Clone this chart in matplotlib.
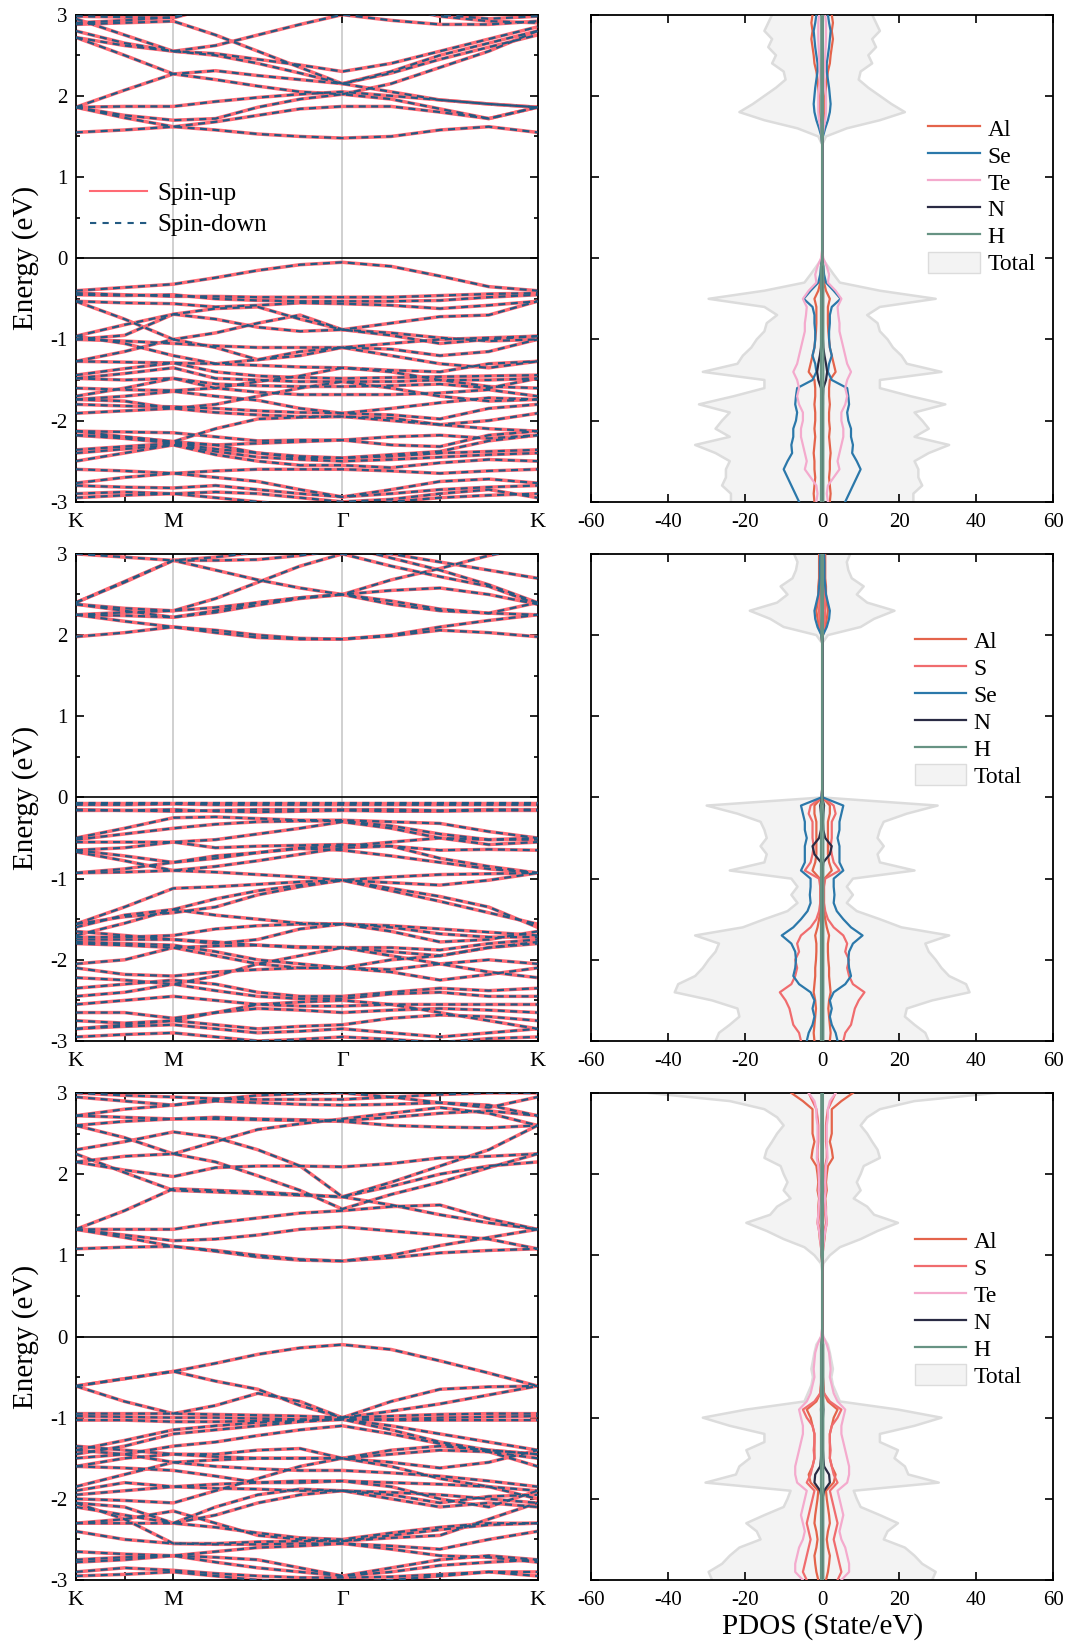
import numpy as np
import matplotlib
matplotlib.use("Agg")
import matplotlib.pyplot as plt
from matplotlib.lines import Line2D
from matplotlib.patches import Patch

plt.rcParams['font.family'] = ['Liberation Serif', 'DejaVu Serif']
plt.rcParams['axes.unicode_minus'] = False

# ---------------- k-path (hexagonal BZ, K-M-Gamma-K) ----------------
k_nodes = [0.0, 0.5, 0.5 + np.sqrt(3) / 2, 1.5 + np.sqrt(3) / 2]
k_labels = ['K', 'M', 'Γ', 'K']
# sample points: K, KM/2, M, 3 on M-G, G, 3 on G-K, K
k_samples = np.concatenate([
    np.linspace(k_nodes[0], k_nodes[1], 3)[:-1],
    np.linspace(k_nodes[1], k_nodes[2], 5)[:-1],
    np.linspace(k_nodes[2], k_nodes[3], 5),
])

# ---------------- band energies (eV) at k_samples ----------------
bands_1 = [
    # conduction
    [1.55, 1.58, 1.62, 1.58, 1.53, 1.50, 1.48, 1.50, 1.58, 1.62, 1.55],
    [1.86, 1.76, 1.70, 1.72, 1.86, 1.96, 2.02, 1.96, 1.84, 1.72, 1.86],
    [1.86, 1.87, 1.87, 1.93, 1.98, 2.02, 2.05, 2.00, 1.95, 1.90, 1.86],
    [1.86, 2.07, 2.27, 2.31, 2.25, 2.20, 2.15, 2.05, 1.95, 1.90, 1.86],
    [1.86, 1.73, 1.62, 1.68, 1.76, 1.84, 1.87, 1.87, 1.80, 1.72, 1.86],
    [2.72, 2.62, 2.55, 2.50, 2.40, 2.28, 2.15, 2.28, 2.45, 2.60, 2.75],
    [2.72, 2.50, 2.27, 2.20, 2.12, 2.05, 2.02, 2.15, 2.35, 2.55, 2.80],
    [2.95, 2.75, 2.55, 2.52, 2.45, 2.38, 2.30, 2.40, 2.55, 2.70, 2.85],
    [2.88, 2.90, 2.92, 2.75, 2.55, 2.35, 2.15, 2.30, 2.50, 2.65, 2.80],
    [2.80, 2.65, 2.55, 2.62, 2.75, 2.88, 3.00, 2.93, 2.88, 2.88, 2.92],
    [2.98, 2.97, 2.96, 3.10, 3.20, 3.20, 3.20, 3.10, 3.00, 2.95, 2.98],
    [2.90, 2.93, 2.97, 3.10, 3.20, 3.25, 3.30, 3.10, 2.98, 2.92, 2.90],
    # valence
    [-0.40, -0.36, -0.32, -0.24, -0.15, -0.08, -0.05, -0.10, -0.22, -0.35, -0.40],
    [-0.43, -0.45, -0.47, -0.47, -0.48, -0.48, -0.48, -0.48, -0.46, -0.44, -0.43],
    [-0.45, -0.46, -0.45, -0.50, -0.52, -0.53, -0.53, -0.53, -0.52, -0.48, -0.45],
    [-0.53, -0.55, -0.56, -0.60, -0.58, -0.55, -0.56, -0.58, -0.62, -0.58, -0.53],
    [-0.53, -0.75, -1.00, -0.92, -0.80, -0.70, -0.88, -0.80, -0.72, -0.70, -0.53],
    [-0.96, -0.82, -0.69, -0.75, -0.85, -0.90, -0.88, -0.95, -1.05, -1.00, -0.96],
    [-1.00, -0.95, -0.69, -0.62, -0.60, -0.75, -0.88, -0.92, -0.98, -1.02, -1.00],
    [-1.00, -1.02, -1.05, -1.08, -1.10, -1.10, -1.10, -1.12, -1.20, -1.15, -1.00],
    [-1.27, -1.15, -1.00, -1.10, -1.25, -1.20, -1.10, -1.20, -1.30, -1.35, -1.27],
    [-1.27, -1.28, -1.29, -1.30, -1.32, -1.34, -1.35, -1.38, -1.40, -1.30, -1.27],
    [-1.44, -1.36, -1.29, -1.40, -1.45, -1.47, -1.48, -1.47, -1.46, -1.45, -1.44],
    [-1.48, -1.42, -1.35, -1.48, -1.50, -1.52, -1.52, -1.52, -1.50, -1.50, -1.48],
    [-1.48, -1.50, -1.48, -1.55, -1.57, -1.58, -1.58, -1.57, -1.55, -1.60, -1.48],
    [-1.70, -1.60, -1.48, -1.60, -1.65, -1.68, -1.68, -1.68, -1.66, -1.62, -1.70],
    [-1.74, -1.70, -1.64, -1.70, -1.75, -1.85, -1.91, -1.85, -1.78, -1.72, -1.74],
    [-1.80, -1.82, -1.83, -1.85, -1.88, -1.90, -1.91, -1.93, -1.98, -1.85, -1.80],
    [-1.91, -1.88, -1.85, -1.90, -1.93, -1.95, -1.95, -1.97, -2.05, -2.00, -1.91],
    [-2.13, -2.20, -2.26, -2.10, -1.98, -1.96, -1.95, -2.00, -2.05, -2.10, -2.13],
    [-2.18, -2.22, -2.28, -2.30, -2.28, -2.26, -2.24, -2.20, -2.18, -2.22, -2.18],
    [-2.36, -2.32, -2.28, -2.35, -2.40, -2.44, -2.46, -2.44, -2.40, -2.38, -2.36],
    [-2.40, -2.35, -2.30, -2.38, -2.45, -2.48, -2.50, -2.48, -2.45, -2.42, -2.40],
    [-2.50, -2.40, -2.30, -2.42, -2.50, -2.55, -2.55, -2.58, -2.52, -2.48, -2.50],
    [-2.60, -2.62, -2.65, -2.62, -2.60, -2.60, -2.60, -2.62, -2.65, -2.62, -2.60],
    [-2.77, -2.70, -2.65, -2.70, -2.75, -2.85, -2.94, -2.85, -2.75, -2.72, -2.77],
    [-2.80, -2.82, -2.83, -2.80, -2.85, -2.90, -2.94, -2.90, -2.85, -2.82, -2.80],
    [-2.90, -2.88, -2.90, -2.95, -3.00, -3.05, -3.10, -3.00, -2.95, -2.92, -2.90],
    [-2.95, -2.92, -2.90, -2.88, -2.90, -2.95, -3.00, -2.97, -2.90, -2.85, -2.95],
    [-1.60, -1.62, -1.63, -1.60, -1.52, -1.45, -1.35, -1.40, -1.50, -1.58, -1.60],
    [-0.96, -1.05, -1.20, -1.30, -1.25, -1.15, -1.10, -1.05, -1.00, -0.98, -0.96],
    [-1.74, -1.76, -1.85, -1.80, -1.70, -1.60, -1.52, -1.60, -1.70, -1.76, -1.74],
    [-2.13, -2.14, -2.15, -2.20, -2.25, -2.24, -2.24, -2.30, -2.32, -2.18, -2.13],
    [-2.18, -2.20, -2.26, -2.30, -2.40, -2.46, -2.46, -2.42, -2.38, -2.25, -2.18],
]

bands_2 = [
    # conduction
    [1.98, 2.03, 2.10, 2.03, 1.97, 1.95, 1.95, 1.99, 2.06, 2.03, 1.98],
    [2.25, 2.17, 2.10, 2.06, 2.00, 1.96, 1.95, 2.00, 2.10, 2.18, 2.25],
    [2.38, 2.30, 2.22, 2.28, 2.37, 2.45, 2.50, 2.55, 2.58, 2.50, 2.38],
    [2.38, 2.33, 2.30, 2.34, 2.40, 2.46, 2.50, 2.42, 2.32, 2.27, 2.25],
    [2.25, 2.28, 2.30, 2.45, 2.65, 2.85, 3.00, 2.85, 2.72, 2.60, 2.38],
    [2.40, 2.65, 2.92, 2.80, 2.68, 2.58, 2.50, 2.38, 2.30, 2.27, 2.40],
    [3.00, 2.96, 2.92, 2.92, 2.93, 2.98, 3.05, 3.00, 2.90, 2.80, 2.70],
    [2.40, 2.66, 2.92, 2.96, 3.02, 3.08, 3.10, 2.95, 2.80, 2.62, 2.40],
    [2.25, 2.24, 2.22, 2.30, 2.40, 2.46, 2.50, 2.68, 2.82, 2.98, 3.10],
    # valence
    [-0.07, -0.07, -0.07, -0.07, -0.07, -0.07, -0.07, -0.07, -0.07, -0.07, -0.07],
    [-0.09, -0.09, -0.08, -0.09, -0.09, -0.09, -0.09, -0.09, -0.09, -0.09, -0.09],
    [-0.15, -0.16, -0.17, -0.16, -0.15, -0.15, -0.15, -0.15, -0.16, -0.15, -0.15],
    [-0.16, -0.16, -0.15, -0.17, -0.18, -0.17, -0.16, -0.17, -0.17, -0.16, -0.16],
    [-0.50, -0.38, -0.25, -0.24, -0.26, -0.28, -0.28, -0.30, -0.32, -0.42, -0.50],
    [-0.52, -0.45, -0.38, -0.33, -0.30, -0.29, -0.29, -0.35, -0.45, -0.52, -0.52],
    [-0.55, -0.55, -0.55, -0.52, -0.45, -0.38, -0.30, -0.38, -0.50, -0.58, -0.55],
    [-0.65, -0.62, -0.55, -0.62, -0.60, -0.59, -0.58, -0.60, -0.65, -0.64, -0.65],
    [-0.65, -0.72, -0.80, -0.75, -0.68, -0.62, -0.60, -0.55, -0.50, -0.52, -0.50],
    [-0.93, -0.88, -0.80, -0.72, -0.68, -0.63, -0.65, -0.72, -0.80, -0.88, -0.93],
    [-0.93, -0.92, -0.90, -0.85, -0.78, -0.70, -0.62, -0.60, -0.75, -0.85, -0.93],
    [-0.67, -0.78, -0.90, -0.92, -0.95, -0.98, -1.02, -0.98, -0.95, -0.94, -0.93],
    [-1.56, -1.35, -1.12, -1.10, -1.07, -1.04, -1.02, -1.05, -1.08, -1.02, -0.93],
    [-1.60, -1.45, -1.38, -1.25, -1.15, -1.08, -1.02, -1.15, -1.28, -1.42, -1.56],
    [-1.56, -1.47, -1.42, -1.35, -1.20, -1.10, -1.02, -1.12, -1.22, -1.35, -1.60],
    [-1.70, -1.55, -1.38, -1.45, -1.50, -1.55, -1.56, -1.58, -1.62, -1.66, -1.70],
    [-1.72, -1.72, -1.70, -1.62, -1.58, -1.56, -1.56, -1.60, -1.68, -1.72, -1.72],
    [-1.75, -1.75, -1.75, -1.78, -1.82, -1.85, -1.85, -1.85, -1.88, -1.80, -1.75],
    [-1.80, -1.82, -1.85, -1.83, -1.82, -1.84, -1.85, -1.90, -1.95, -1.85, -1.80],
    [-2.05, -2.00, -1.85, -1.95, -2.05, -2.10, -2.10, -2.12, -2.05, -2.00, -2.05],
    [-2.10, -2.18, -2.20, -2.15, -2.12, -2.10, -2.10, -2.15, -2.25, -2.18, -2.10],
    [-2.35, -2.30, -2.25, -2.30, -2.40, -2.45, -2.45, -2.40, -2.35, -2.38, -2.35],
    [-2.45, -2.40, -2.30, -2.38, -2.45, -2.48, -2.48, -2.42, -2.40, -2.45, -2.45],
    [-2.55, -2.50, -2.45, -2.50, -2.55, -2.57, -2.57, -2.55, -2.55, -2.55, -2.55],
    [-2.65, -2.65, -2.72, -2.65, -2.60, -2.62, -2.65, -2.62, -2.60, -2.62, -2.65],
    [-2.75, -2.78, -2.75, -2.80, -2.85, -2.82, -2.80, -2.72, -2.68, -2.70, -2.75],
    [-2.85, -2.82, -2.80, -2.85, -2.90, -2.88, -2.85, -2.90, -2.95, -2.90, -2.85],
    [-2.95, -2.92, -2.90, -2.95, -3.00, -2.98, -2.95, -2.98, -3.02, -2.97, -2.95],
    [-2.22, -2.25, -2.30, -2.20, -2.05, -1.95, -1.85, -1.95, -2.05, -2.15, -2.22],
    [-1.65, -1.70, -1.75, -1.80, -1.75, -1.62, -1.56, -1.65, -1.78, -1.75, -1.65],
    [-2.85, -2.80, -2.75, -2.65, -2.55, -2.52, -2.50, -2.55, -2.65, -2.75, -2.85],
    [-1.78, -1.80, -1.82, -1.90, -2.00, -2.05, -2.10, -2.00, -1.95, -1.85, -1.78],
]

bands_3 = [
    # conduction
    [1.08, 1.10, 1.11, 1.05, 0.98, 0.94, 0.93, 0.97, 1.03, 1.06, 1.08],
    [1.32, 1.22, 1.11, 1.06, 1.00, 0.95, 0.93, 1.00, 1.12, 1.22, 1.32],
    [1.32, 1.25, 1.18, 1.20, 1.25, 1.32, 1.35, 1.30, 1.25, 1.20, 1.08],
    [1.32, 1.32, 1.32, 1.40, 1.46, 1.52, 1.55, 1.60, 1.62, 1.45, 1.32],
    [1.32, 1.55, 1.82, 1.80, 1.78, 1.75, 1.72, 1.62, 1.50, 1.40, 1.32],
    [2.15, 2.05, 1.97, 2.08, 2.10, 2.10, 2.09, 2.13, 2.20, 2.22, 2.25],
    [2.25, 2.02, 1.80, 1.78, 1.76, 1.74, 1.72, 1.85, 2.00, 2.10, 2.15],
    [2.15, 2.22, 2.25, 2.15, 1.98, 1.80, 1.57, 1.75, 1.90, 2.08, 2.25],
    [2.30, 2.40, 2.52, 2.45, 2.30, 2.10, 1.72, 1.90, 2.10, 2.30, 2.60],
    [2.60, 2.65, 2.68, 2.68, 2.67, 2.66, 2.65, 2.60, 2.58, 2.57, 2.60],
    [2.72, 2.70, 2.68, 2.70, 2.68, 2.67, 2.66, 2.70, 2.75, 2.78, 2.72],
    [2.72, 2.80, 2.85, 2.90, 2.88, 2.86, 2.85, 2.86, 2.88, 2.85, 2.72],
    [2.95, 2.90, 2.85, 2.92, 2.97, 2.99, 3.00, 2.95, 2.88, 2.82, 2.95],
    [2.60, 2.45, 2.25, 2.40, 2.55, 2.62, 2.68, 2.75, 2.82, 2.75, 2.60],
    [3.00, 2.97, 2.95, 2.93, 2.92, 2.92, 2.92, 2.95, 2.98, 3.00, 3.00],
    # valence
    [-0.61, -0.52, -0.43, -0.33, -0.22, -0.14, -0.10, -0.16, -0.30, -0.45, -0.61],
    [-0.61, -0.52, -0.43, -0.55, -0.65, -0.85, -1.00, -0.92, -0.83, -0.72, -0.61],
    [-0.61, -0.80, -0.95, -0.85, -0.70, -0.80, -1.00, -0.80, -0.65, -0.62, -0.61],
    [-0.95, -0.95, -0.95, -0.96, -0.97, -0.98, -1.00, -0.98, -0.96, -0.95, -0.95],
    [-0.98, -0.99, -1.00, -1.00, -1.01, -1.02, -1.02, -1.02, -1.00, -0.99, -0.98],
    [-1.03, -1.03, -1.05, -1.05, -1.04, -1.03, -1.02, -1.03, -1.03, -1.03, -1.03],
    [-1.40, -1.28, -1.15, -1.10, -1.06, -1.04, -1.02, -1.10, -1.20, -1.30, -1.40],
    [-1.45, -1.35, -1.20, -1.15, -1.10, -1.05, -1.02, -1.15, -1.30, -1.40, -1.45],
    [-1.50, -1.45, -1.35, -1.30, -1.22, -1.15, -1.10, -1.20, -1.32, -1.42, -1.50],
    [-1.60, -1.50, -1.45, -1.48, -1.50, -1.50, -1.50, -1.45, -1.40, -1.42, -1.60],
    [-1.40, -1.45, -1.55, -1.52, -1.50, -1.50, -1.50, -1.55, -1.62, -1.55, -1.40],
    [-1.85, -1.70, -1.55, -1.60, -1.63, -1.65, -1.65, -1.68, -1.72, -1.78, -1.85],
    [-1.90, -1.80, -1.85, -1.82, -1.80, -1.78, -1.78, -1.80, -1.82, -1.85, -1.90],
    [-1.95, -1.90, -1.85, -1.87, -1.88, -1.90, -1.90, -1.95, -2.05, -1.97, -1.95],
    [-2.00, -2.02, -2.05, -1.90, -1.75, -1.60, -1.50, -1.60, -1.75, -1.85, -2.00],
    [-2.10, -2.20, -2.30, -2.20, -2.05, -1.95, -1.90, -2.00, -2.10, -2.05, -2.10],
    [-2.30, -2.30, -2.30, -2.35, -2.42, -2.48, -2.50, -2.42, -2.35, -2.30, -2.30],
    [-2.30, -2.25, -2.15, -2.30, -2.45, -2.50, -2.52, -2.45, -2.38, -2.32, -2.30],
    [-2.05, -2.25, -2.55, -2.55, -2.53, -2.52, -2.52, -2.48, -2.45, -2.25, -2.05],
    [-2.40, -2.50, -2.55, -2.56, -2.56, -2.55, -2.55, -2.58, -2.62, -2.50, -2.40],
    [-2.75, -2.72, -2.70, -2.72, -2.75, -2.85, -2.95, -2.85, -2.75, -2.70, -2.75],
    [-2.78, -2.75, -2.70, -2.65, -2.60, -2.58, -2.55, -2.62, -2.70, -2.72, -2.78],
    [-2.90, -2.85, -2.88, -2.92, -2.95, -2.97, -2.97, -2.96, -2.93, -2.90, -2.90],
    [-2.95, -2.93, -2.90, -2.95, -3.00, -3.02, -3.02, -3.00, -2.95, -2.90, -2.95],
    [-1.60, -1.62, -1.65, -1.72, -1.80, -1.80, -1.78, -1.85, -2.00, -2.10, -1.90],
    [-2.05, -2.10, -2.30, -2.10, -1.95, -1.88, -1.90, -1.92, -1.95, -2.00, -2.05],
    [-1.35, -1.40, -1.45, -1.45, -1.40, -1.38, -1.50, -1.40, -1.35, -1.40, -1.45],
    [-2.65, -2.68, -2.70, -2.78, -2.85, -2.90, -2.95, -2.90, -2.82, -2.78, -2.75],
]

# ---------------- PDOS (states/eV, spin-up; spin-down mirrored) ----------------
# energies from 3.0 down to -3.0 eV in 0.1 eV steps
dos_energy = np.round(np.linspace(3.0, -3.0, 61), 2)
Z8 = [0.0] * 8
Z13 = [0.0] * 13
Z18 = [0.0] * 18

# panel 1: Al, Se, Te, N, H
tot_1 = [13, 14, 15, 13, 14, 12, 13, 10, 9.5, 12, 15, 18, 21.5, 15, 6.4, 1, 0] + Z13 + \
    [0, 1.5, 3, 4.6, 15, 29.5, 15, 11.7, 14.4, 15, 17, 18.4, 20.6, 22, 31, 15, 15, 23, 32, 24,
     26, 27.7, 24, 33, 27.7, 24, 25, 25, 26, 23.7, 23.7]
al_1 = [2.5, 2.8, 2.5, 2.8, 2.5, 2.2, 2.0, 1.5, 1.2, 1.0, 0.8, 0.8, 0.8, 0.6, 0.3, 0.1, 0] + Z13 + \
    [0, 0.2, 0.3, 0.5, 1.0, 2.0, 1.5, 1.5, 1.5, 1.6, 1.8, 2.0, 2.5, 3.0, 3.5, 2.0, 1.8, 1.8, 2.0, 1.8,
     1.8, 2.0, 1.8, 2.0, 2.2, 2.0, 2.0, 1.8, 2.0, 2.2, 2.0]
se_1 = [1.5, 1.8, 2.2, 2.0, 1.8, 1.5, 1.2, 1.2, 1.5, 1.8, 2.0, 2.2, 2.0, 1.5, 0.8, 0.2, 0] + Z13 + \
    [0, 0.3, 0.5, 1.0, 3.0, 4.8, 2.5, 2.0, 2.0, 1.8, 1.8, 2.0, 2.5, 1.8, 1.5, 2.5, 6.5, 6.8, 7.0, 6.5,
     6.8, 7.5, 7.5, 8.0, 7.8, 9.0, 10.0, 9.0, 8.0, 7.0, 6.0]
te_1 = [0.8, 1.0, 1.0, 1.0, 0.9, 0.8, 0.7, 0.6, 0.6, 0.8, 1.0, 1.0, 1.0, 0.8, 0.4, 0.1, 0] + Z13 + \
    [0.3, 1.2, 1.8, 1.5, 3.5, 5.0, 4.0, 4.2, 4.5, 4.5, 5.0, 5.5, 6.0, 6.5, 7.5, 6.5, 6.0, 6.5, 6.0, 5.0,
     5.0, 5.5, 5.5, 5.0, 4.5, 4.0, 4.5, 3.0, 1.5, 1.2, 1.5]
n_1 = [0.05] * 16 + [0] + Z13 + \
    [0, 0.1, 0.1, 0.1, 0.2, 0.2, 0.2, 0.1, 0.1, 0.1, 0.2, 0.3, 0.6, 1.0, 1.3, 1.0, 0.3, 0.2, 0.2, 0.1,
     0.1, 0.1, 0.1, 0.1, 0.1, 0.1, 0.1, 0.1, 0.1, 0.1, 0.1]
h_1 = [0.2] * 16 + [0] + Z13 + [0] + [0.3] * 30

# panel 2: Al, S, Se, N, H
tot_2 = [7.3, 6.4, 6.8, 7.7, 10.8, 9, 11.7, 18.8, 13.5, 10, 1.5, 0] + Z18 + \
    [0, 30, 22, 16, 15, 14.4, 16, 14.4, 15, 24, 8, 6.4, 8, 6.4, 9, 15, 20.6, 33, 26.8, 27.7,
     29.5, 31, 33, 37.4, 38.3, 28.6, 22, 21.5, 24, 26.8, 27.7]
al_2 = [0.8, 0.8, 0.8, 0.8, 1.0, 1.0, 1.2, 1.5, 1.2, 0.8, 0.2, 0] + Z18 + \
    [0.1, 2.0, 2.0, 1.5, 1.5, 1.5, 1.5, 1.5, 1.8, 2.5, 0.6, 0.4, 0.4, 0.4, 0.5, 0.8, 1.2, 1.8, 1.5, 1.5,
     1.6, 1.8, 1.8, 2.0, 2.2, 1.8, 1.6, 1.8, 2.0, 2.2, 2.0]
s_2 = [0.5, 0.5, 0.5, 0.5, 0.6, 0.6, 0.7, 0.8, 0.7, 0.5, 0.1, 0] + Z18 + \
    [0.2, 3.0, 3.5, 2.5, 2.5, 2.5, 2.2, 2.5, 3.0, 4.5, 0.8, 0.5, 0.5, 0.5, 0.8, 1.5, 3.0, 5.5, 6.5, 6.0,
     7.0, 6.5, 7.0, 8.0, 11.0, 9.5, 8.5, 8.0, 7.5, 6.0, 5.5]
se_2 = [0.5, 0.6, 0.6, 0.6, 0.8, 1.0, 1.5, 2.0, 1.8, 1.2, 0.2, 0] + Z18 + \
    [0.2, 5.5, 5.0, 4.5, 4.5, 4.0, 4.5, 4.5, 4.5, 5.5, 3.0, 3.0, 3.2, 3.0, 3.8, 5.5, 7.5, 10.5, 8.0, 7.0,
     6.8, 7.0, 7.5, 6.0, 3.0, 2.0, 2.5, 2.0, 2.5, 3.5, 4.0]
n_2 = [0.05] * 11 + [0] + Z18 + \
    [0, 0.5, 0.3, 0.2, 0.3, 0.8, 2.5, 2.0, 0.3, 0.1, 0.1, 0.1, 0.1, 0.1, 0.1, 0.1, 0.1, 0.1, 0.1, 0.1,
     0.1, 0.1, 0.1, 0.1, 0.1, 0.1, 0.1, 0.1, 0.1, 0.1, 0.1]
h_2 = [0.2] * 11 + [0] + Z18 + [0] + [0.3] * 30

# panel 3: Al, S, Te, N, H
tot_3 = [45, 24, 15, 11.7, 10, 11.7, 13, 14.4, 15, 10.8, 10, 9, 10, 8.2, 11.7, 13.5, 19.7, 14.4,
         10, 4.6, 2, 0.3] + Z8 + \
    [0.2, 1.5, 2, 2.4, 2.8, 2.4, 2.8, 3.7, 4.6, 19.7, 31, 24, 15, 15, 19.7, 18.8, 21.5, 22.4, 30.3, 8.2,
     9, 10, 15, 19.7, 17, 16, 21.5, 24, 26, 29.5, 28.6]
al_3 = [8.0, 5.0, 2.5, 2.5, 2.5, 2.5, 2.0, 2.5, 2.8, 1.5, 1.2, 1.0, 1.2, 0.8, 1.0, 1.0, 1.2, 0.8,
        0.6, 0.3, 0.1, 0] + Z8 + \
    [0, 0.1, 0.2, 0.2, 0.2, 0.2, 0.3, 0.5, 1.5, 4.0, 3.0, 2.5, 2.0, 2.0, 2.0, 2.0, 2.5, 3.5, 3.0, 1.0,
     1.2, 1.5, 1.8, 2.0, 1.5, 1.2, 1.5, 2.0, 1.8, 1.5, 1.0]
s_3 = [3.5, 2.5, 1.5, 1.2, 1.0, 1.0, 1.0, 1.2, 1.2, 0.8, 0.8, 0.7, 0.8, 0.6, 0.8, 0.8, 1.0, 0.6,
       0.4, 0.2, 0.1, 0] + Z8 + \
    [0, 0.1, 0.1, 0.2, 0.2, 0.2, 0.3, 0.5, 2.0, 5.0, 4.0, 2.5, 2.0, 2.0, 2.2, 2.0, 2.5, 3.0, 4.0, 2.0,
     2.5, 3.0, 3.5, 4.0, 3.5, 3.0, 3.5, 4.0, 4.5, 5.0, 4.0]
te_3 = [3.5, 2.0, 1.5, 1.5, 1.2, 1.2, 1.2, 1.3, 1.4, 1.0, 0.9, 0.8, 0.9, 0.7, 0.9, 1.0, 1.2, 0.8,
        0.5, 0.3, 0.1, 0] + Z8 + \
    [0.3, 1.2, 1.8, 2.0, 2.2, 2.0, 2.5, 3.0, 4.0, 6.0, 5.5, 5.0, 5.0, 5.5, 6.0, 6.5, 7.0, 7.0, 6.5, 4.0,
     4.5, 5.0, 5.5, 5.0, 4.5, 5.0, 6.0, 6.5, 7.0, 7.0, 5.0]
n_3 = [0.05] * 21 + [0] + Z8 + \
    [0, 0.1, 0.1, 0.1, 0.1, 0.1, 0.1, 0.1, 0.2, 0.3, 0.2, 0.1, 0.1, 0.1, 0.2, 0.3, 0.5, 1.8, 2.0, 0.5,
     0.1, 0.1, 0.1, 0.1, 0.1, 0.1, 0.1, 0.1, 0.1, 0.1, 0.1]
h_3 = [0.2] * 21 + [0] + Z8 + [0] + [0.3] * 30

colors = {'Al': '#E4644B', 'S': '#F06C6E', 'Se': '#2B78AA', 'Te': '#F4AACD',
          'N': '#2A2B44', 'H': '#679383'}

pdos_panels = [
    (tot_1, [('Al', al_1), ('Se', se_1), ('Te', te_1), ('N', n_1), ('H', h_1)], (0.73, 0.79)),
    (tot_2, [('Al', al_2), ('S', s_2), ('Se', se_2), ('N', n_2), ('H', h_2)], (0.70, 0.845)),
    (tot_3, [('Al', al_3), ('S', s_3), ('Te', te_3), ('N', n_3), ('H', h_3)], (0.70, 0.72)),
]
band_panels = [bands_1, bands_2, bands_3]

UP_COLOR = '#FF6A74'
DOWN_COLOR = '#235A82'
DASH = (0, (3.2, 2.4))

fig = plt.figure(figsize=(10.74, 16.5), dpi=100)
rows_bottom = [0.6959, 0.3691, 0.0424]
row_h = 0.2952


def style_axis(ax):
    for sp in ax.spines.values():
        sp.set_linewidth(1.3)
    ax.tick_params(which='both', direction='in', top=True, right=True, width=1.2,
                   labelsize=15)
    ax.tick_params(which='major', length=5.5)
    ax.tick_params(which='minor', length=3)


for r in range(3):
    # ---------- band structure ----------
    ax = fig.add_axes([0.0705, rows_bottom[r], 0.430, row_h])
    for b in band_panels[r]:
        ax.plot(k_samples, b, color=UP_COLOR, lw=2.5, solid_capstyle='round', zorder=2)
    for b in band_panels[r]:
        ax.plot(k_samples, b, color=DOWN_COLOR, lw=1.6, linestyle=DASH, zorder=3)
    for kx in k_nodes[1:-1]:
        ax.axvline(kx, color='#C8C8C8', lw=1.2, zorder=1)
    ax.axhline(0, color='black', lw=1.2, zorder=4)
    ax.set_xlim(k_nodes[0], k_nodes[-1])
    ax.set_ylim(-3, 3)
    ax.set_xticks([k_nodes[0], 0.25, k_nodes[1], k_nodes[2], k_nodes[2] + 0.5, k_nodes[3]])
    ax.set_xticklabels([k_labels[0], '', k_labels[1], k_labels[2], '', k_labels[3]])
    ax.set_yticks(range(-3, 4))
    ax.set_yticks(np.arange(-2.5, 3, 1.0), minor=True)
    style_axis(ax)
    ax.tick_params(axis='y', pad=6)
    ax.tick_params(axis='x', pad=8, labelsize=16)
    ax.set_ylabel('Energy (eV)', fontsize=21)
    ax.yaxis.set_label_coords(-0.08, 0.5)
    if r == 0:
        h_up = Line2D([], [], color=UP_COLOR, lw=1.5)
        h_dn = Line2D([], [], color=DOWN_COLOR, lw=1.5, linestyle=(0, (3, 3)))
        ax.legend([h_up, h_dn], ['Spin-up', 'Spin-down'], loc='upper left',
                  bbox_to_anchor=(0.03, 0.655), frameon=False, fontsize=18,
                  handlelength=2.3, handletextpad=0.4, labelspacing=0.35,
                  borderpad=0, borderaxespad=0)

    # ---------- PDOS ----------
    tot, parts, leg_pos = pdos_panels[r]
    ax2 = fig.add_axes([0.5505, rows_bottom[r], 0.430, row_h])
    tot = np.array(tot, dtype=float)
    ax2.fill_betweenx(dos_energy, -tot, tot, facecolor='#F3F3F3', edgecolor='none', zorder=1)
    ax2.plot(tot, dos_energy, color='#DCDCDC', lw=1.8, zorder=1.5)
    ax2.plot(-tot, dos_energy, color='#DCDCDC', lw=1.8, zorder=1.5)
    handles, labels = [], []
    for name, vals in parts:
        v = np.array(vals, dtype=float)
        ax2.plot(v, dos_energy, color=colors[name], lw=1.6, zorder=3)
        ax2.plot(-v, dos_energy, color=colors[name], lw=1.6, zorder=3)
        handles.append(Line2D([], [], color=colors[name], lw=1.6))
        labels.append(name)
    handles.append(Patch(facecolor='#F3F3F3', edgecolor='#DCDCDC', lw=1))
    labels.append('Total')
    ax2.legend(handles, labels, loc='upper left', bbox_to_anchor=leg_pos, frameon=False,
               fontsize=17, handlelength=2.2, handleheight=1.0, handletextpad=0.3,
               labelspacing=0.14, borderpad=0, borderaxespad=0)
    ax2.set_xlim(-60, 60)
    ax2.set_ylim(-3, 3)
    ax2.set_xticks(range(-60, 61, 20))
    ax2.set_yticks(range(-3, 4))
    ax2.set_yticklabels([])
    style_axis(ax2)
    ax2.tick_params(axis='x', pad=8)
    if r == 2:
        ax2.set_xlabel('PDOS (State/eV)', fontsize=21, labelpad=2)

fig.savefig('out.png', dpi=100)
